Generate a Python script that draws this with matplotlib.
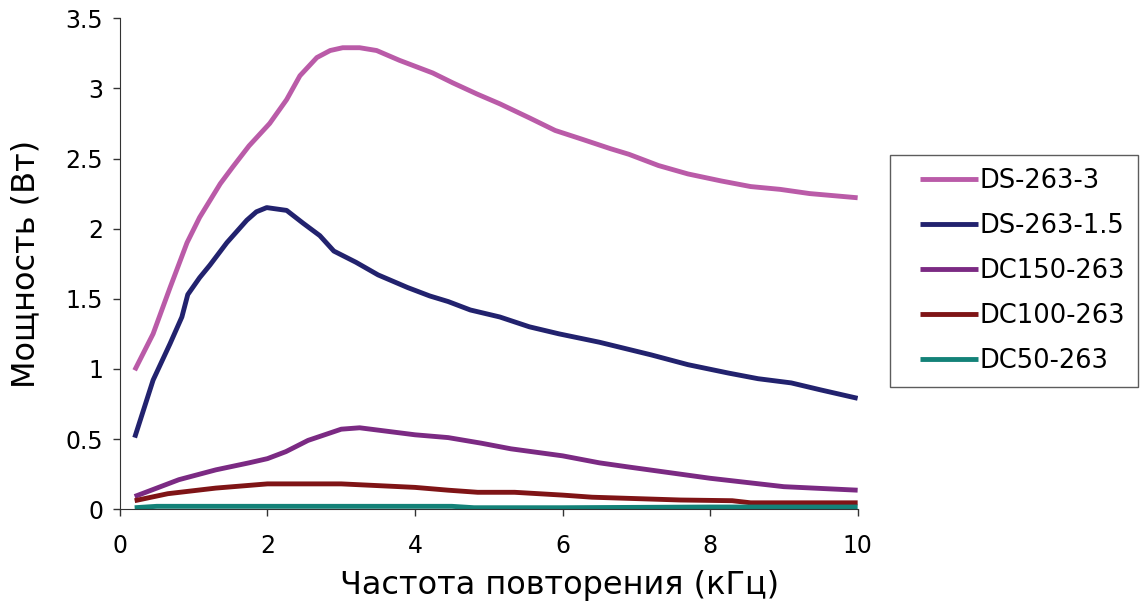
import numpy as np
import matplotlib
matplotlib.use("Agg")
import matplotlib.pyplot as plt
from matplotlib.legend_handler import HandlerLine2D

# --- data ---
x_ds3 = [0.2, 0.45, 0.68, 0.91, 1.08, 1.36, 1.53, 1.75, 2.03, 2.26, 2.44, 2.67, 2.85, 3.02, 3.25, 3.48,
         3.79, 4.24, 4.51, 4.84, 5.15, 5.55, 5.9, 6.25, 6.65, 6.9, 7.3, 7.7, 8.15, 8.55, 8.95, 9.35, 10.0]
y_ds3 = [0.99, 1.25, 1.58, 1.90, 2.08, 2.32, 2.44, 2.59, 2.75, 2.92, 3.09, 3.22, 3.27, 3.29, 3.29, 3.27,
         3.20, 3.11, 3.04, 2.96, 2.89, 2.79, 2.70, 2.64, 2.57, 2.53, 2.45, 2.39, 2.34, 2.30, 2.28, 2.25, 2.22]

x_ds15 = [0.2, 0.45, 0.68, 0.84, 0.92, 1.08, 1.22, 1.45, 1.72, 1.85, 1.99, 2.26, 2.48, 2.71, 2.9,
          3.2, 3.5, 3.9, 4.2, 4.45, 4.75, 5.15, 5.55, 5.95, 6.5, 7.2, 7.7, 8.25, 8.65, 9.1, 9.5, 10.0]
y_ds15 = [0.51, 0.92, 1.18, 1.37, 1.53, 1.65, 1.74, 1.90, 2.06, 2.12, 2.15, 2.13, 2.04, 1.95, 1.84,
          1.76, 1.67, 1.58, 1.52, 1.48, 1.42, 1.37, 1.30, 1.25, 1.19, 1.10, 1.03, 0.97, 0.93, 0.90, 0.85, 0.79]

x_dc150 = [0.2, 0.8, 1.3, 1.75, 2.0, 2.25, 2.55, 3.0, 3.25, 4.0, 4.45, 4.9, 5.3, 6.0, 6.5, 6.9, 8.0, 9.0, 10.0]
y_dc150 = [0.09, 0.21, 0.28, 0.33, 0.36, 0.41, 0.49, 0.57, 0.58, 0.53, 0.51, 0.47, 0.43, 0.38, 0.33, 0.30, 0.22, 0.16, 0.135]

x_dc100 = [0.2, 0.65, 1.3, 2.0, 3.0, 4.0, 4.45, 4.85, 5.35, 6.0, 6.4, 7.6, 8.3, 8.55, 10.0]
y_dc100 = [0.06, 0.11, 0.15, 0.18, 0.18, 0.155, 0.135, 0.12, 0.12, 0.10, 0.085, 0.065, 0.06, 0.045, 0.045]

x_dc50 = [0.2, 0.5, 2.0, 4.5, 4.8, 6.0, 8.0, 10.0]
y_dc50 = [0.01, 0.02, 0.02, 0.02, 0.01, 0.01, 0.015, 0.015]

names = ["DS-263-3", "DS-263-1.5", "DC150-263", "DC100-263", "DC50-263"]
colors = ["#BA5BA8", "#22226E", "#7B2A83", "#7F1416", "#138278"]

fig = plt.figure(figsize=(11.42, 6.09), dpi=100)
ax = fig.add_axes([0.105, 0.164, 0.646, 0.806])

series = [(x_ds3, y_ds3), (x_ds15, y_ds15), (x_dc150, y_dc150), (x_dc100, y_dc100), (x_dc50, y_dc50)]
for (xs, ys), name, c in zip(series, names, colors):
    ax.plot(xs, ys, color=c, lw=3.5, label=name, solid_capstyle="butt")

ax.set_xlim(0, 10)
ax.set_ylim(0, 3.5)
ax.set_xticks([0, 2, 4, 6, 8, 10])
ax.set_yticks(np.arange(0, 3.6, 0.5))
ax.set_yticklabels(["0", "0.5", "1", "1.5", "2", "2.5", "3", "3.5"])
ax.spines["top"].set_visible(False)
ax.spines["right"].set_visible(False)
for s in ["left", "bottom"]:
    ax.spines[s].set_color("#333333")
ax.tick_params(direction="out", length=5, width=1, labelsize=17, colors="#333333", labelcolor="black")
ax.tick_params(axis="x", pad=13)
ax.tick_params(axis="y", pad=7)

ax.set_xlabel("Частота повторения (кГц)", fontsize=23)
ax.xaxis.set_label_coords(0.596, -0.125)
ax.set_ylabel("Мощность (Вт)", fontsize=23)
ax.yaxis.set_label_coords(-0.106, 0.5)

leg = fig.legend(loc="upper left", bbox_to_anchor=(0.779, 0.745), fontsize=18.5,
                 frameon=True, fancybox=False, edgecolor="#333333", handlelength=2.95,
                 handletextpad=0.05, labelspacing=0.74, borderpad=0.5, borderaxespad=0,
                 handler_map={plt.Line2D: HandlerLine2D(xpad=0.7)})
leg.get_frame().set_linewidth(1.0)

fig.savefig("out.png", dpi=100)
